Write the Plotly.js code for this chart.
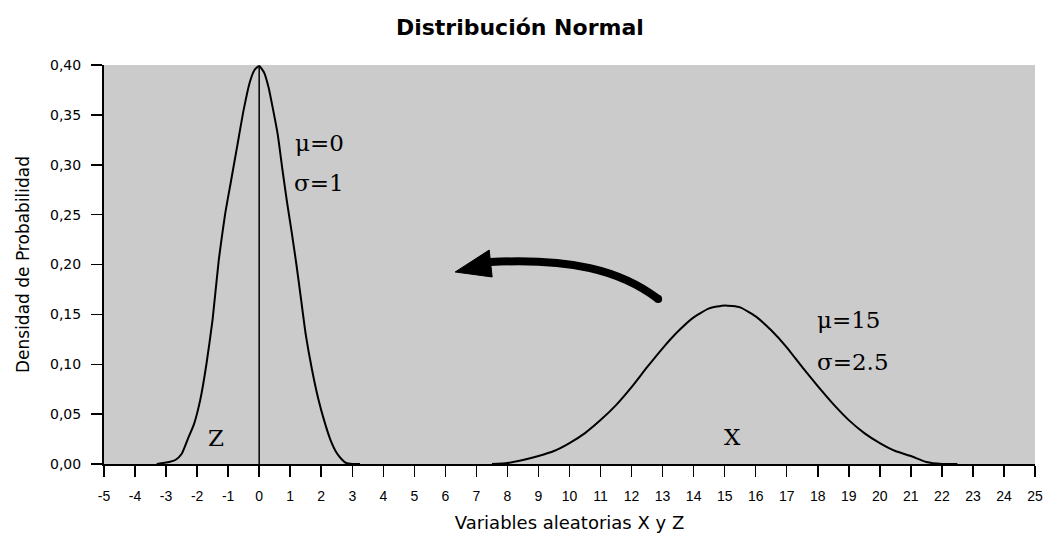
<!DOCTYPE html>
<html>
<head>
<meta charset="utf-8">
<script src="https://cdn.plot.ly/plotly-3.0.1.min.js"></script>
<style>html,body{margin:0;padding:0;background:#fff;}#chart{width:1046px;height:544px;}</style>
</head>
<body>
<div id="chart"></div>
<script>
// Standard normal Z (mu=0, sigma=1)
const zX = [-3.3, -3.1, -2.9, -2.7, -2.5, -2.3, -2.1, -1.9, -1.7, -1.5, -1.3, -1.1, -0.9, -0.7, -0.5, -0.3, -0.15, 0,
            0.15, 0.3, 0.45, 0.6, 0.75, 0.9, 1.05, 1.2, 1.35, 1.5, 1.7, 1.9, 2.1, 2.3, 2.5, 2.65, 2.8, 3.0, 3.25];
const zY = [0.000, 0.001, 0.002, 0.004, 0.010, 0.025, 0.040, 0.064, 0.100, 0.145, 0.205, 0.250, 0.285, 0.320, 0.355, 0.383, 0.395, 0.399,
            0.393, 0.378, 0.355, 0.330, 0.295, 0.262, 0.232, 0.200, 0.165, 0.130, 0.095, 0.066, 0.043, 0.024, 0.011, 0.005, 0.001, 0.000, 0.000];
// Normal X (mu=15, sigma=2.5)
const xX = [7.5, 8, 8.5, 9, 9.5, 10, 10.5, 11, 11.5, 12, 12.5, 13, 13.5, 14, 14.5, 15,
            15.5, 16, 16.5, 17, 17.5, 18, 18.5, 19, 19.5, 20, 20.5, 21, 21.5, 22, 22.5];
const xY = [0.000, 0.001, 0.004, 0.008, 0.013, 0.021, 0.031, 0.044, 0.059, 0.077, 0.097, 0.116, 0.133, 0.147, 0.156, 0.159,
            0.157, 0.148, 0.134, 0.117, 0.097, 0.078, 0.060, 0.044, 0.031, 0.021, 0.013, 0.008, 0.002, 0.000, 0.000];
const zMean = [0];
const zPeak = [0.399];

const xTickVals = [-5,-4,-3,-2,-1,0,1,2,3,4,5,6,7,8,9,10,11,12,13,14,15,16,17,18,19,20,21,22,23,24,25];
const xTickLabels = ['-5','-4','-3','-2','-1','0','1','2','3','4','5','6','7','8','9','10','11','12','13','14','15','16','17','18','19','20','21','22','23','24','25'];
const yTickVals = [0, 0.05, 0.10, 0.15, 0.20, 0.25, 0.30, 0.35, 0.40];
const yTickLabels = ['0,00','0,05','0,10','0,15','0,20','0,25','0,30','0,35','0,40'];

const traces = [
  {x: zX, y: zY, type: 'scatter', mode: 'lines', line: {color: '#000', width: 2, shape: 'spline', smoothing: 0.5}, hoverinfo: 'skip', cliponaxis: false},
  {x: xX, y: xY, type: 'scatter', mode: 'lines', line: {color: '#000', width: 2, shape: 'spline', smoothing: 0.5}, hoverinfo: 'skip', cliponaxis: false},
  {x: [zMean[0], zMean[0]], y: [0, zPeak[0]], type: 'scatter', mode: 'lines', line: {color: '#000', width: 1.5}, hoverinfo: 'skip'}
];

const serif = {family: 'DejaVu Serif', size: 23, color: '#000'};
const layout = {
  width: 1046, height: 544,
  margin: {l: 104, r: 11, t: 65, b: 80},
  paper_bgcolor: '#ffffff',
  plot_bgcolor: '#cbcbcb',
  showlegend: false,
  title: {text: 'Distribución Normal', font: {family: 'DejaVu Sans', size: 22, color: '#000', weight: 'bold'},
          x: 0.497, xref: 'container', xanchor: 'center', y: 1 - 27/544, yref: 'container', yanchor: 'middle'},
  xaxis: {
    range: [-5, 25], tickmode: 'array', tickvals: xTickVals, ticktext: xTickLabels,
    ticks: 'outside', ticklen: 11, tickwidth: 1.5, tickcolor: '#000', ticklabelstandoff: 7,
    showline: true, linecolor: '#000', linewidth: 2, zeroline: false, showgrid: false,
    tickfont: {family: 'Liberation Sans', size: 14, color: '#000'},
    title: {text: 'Variables aleatorias X y Z', font: {family: 'DejaVu Sans', size: 18, color: '#000'}, standoff: 14}
  },
  yaxis: {
    range: [0, 0.40], tickmode: 'array', tickvals: yTickVals, ticktext: yTickLabels,
    ticks: 'outside', ticklen: 11, tickwidth: 1.5, tickcolor: '#000', ticklabelstandoff: 7,
    showline: true, linecolor: '#000', linewidth: 2, zeroline: false, showgrid: false,
    tickfont: {family: 'DejaVu Sans', size: 14, color: '#000'},
    title: {text: 'Densidad de Probabilidad', font: {family: 'DejaVu Sans', size: 17, color: '#000'}, standoff: 16}
  },
  annotations: [
    {x: 1.10, y: 0.3218, xref: 'x', yref: 'y', text: 'μ=0', showarrow: false, xanchor: 'left', yanchor: 'middle', font: serif},
    {x: 1.06, y: 0.2817, xref: 'x', yref: 'y', text: 'σ=1', showarrow: false, xanchor: 'left', yanchor: 'middle', font: serif},
    {x: 17.92, y: 0.1444, xref: 'x', yref: 'y', text: 'μ=15', showarrow: false, xanchor: 'left', yanchor: 'middle', font: serif},
    {x: 17.92, y: 0.1023, xref: 'x', yref: 'y', text: 'σ=2.5', showarrow: false, xanchor: 'left', yanchor: 'middle', font: serif},
    {x: -1.39, y: 0.026, xref: 'x', yref: 'y', text: 'Z', showarrow: false, xanchor: 'center', yanchor: 'middle', font: serif},
    {x: 15.24, y: 0.027, xref: 'x', yref: 'y', text: 'X', showarrow: false, xanchor: 'center', yanchor: 'middle', font: serif}
  ],
  shapes: [
    {type: 'path', xref: 'x', yref: 'y', path: 'M 12.857,0.1654 C 11.633,0.1945 10.022,0.2065 7.444,0.2025',
     line: {color: '#000', width: 8}},
    {type: 'path', xref: 'x', yref: 'y', path: 'M 6.316,0.1925 L 7.412,0.2145 L 7.508,0.1875 Z',
     fillcolor: '#000', line: {color: '#000', width: 1}},
    {type: 'circle', xref: 'x', yref: 'y', xsizemode: 'pixel', ysizemode: 'pixel', xanchor: 12.857, yanchor: 0.1654,
     x0: -4, x1: 4, y0: -4, y1: 4, fillcolor: '#000', line: {width: 0}}
  ]
};

Plotly.newPlot('chart', traces, layout, {displayModeBar: false, staticPlot: true});
</script>
</body>
</html>
